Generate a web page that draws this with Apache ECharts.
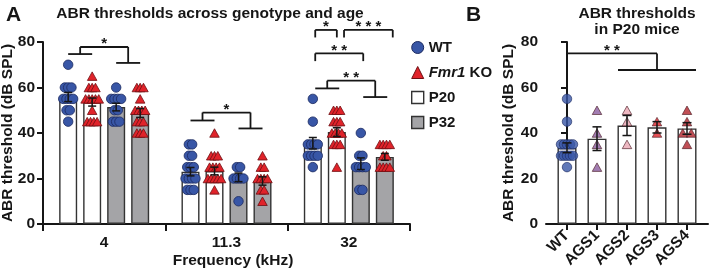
<!DOCTYPE html>
<html><head><meta charset="utf-8">
<script src="https://cdn.jsdelivr.net/npm/echarts@6/dist/echarts.min.js"></script>
<style>html,body{margin:0;padding:0;background:#fff;}#c{width:709px;height:269px;}</style>
</head><body><div id="c"></div>
<script>
const FONT = '"Liberation Sans", Arial, Helvetica, sans-serif';
const INK = '#161616';

// ---------- Panel A data ----------
const freqCategories = ['4', '11.3', '32'];
const wtP20 = [
  [70, 60, 60, 60, 55, 55, 55, 55, 50, 50, 45],
  [35, 35, 30, 30, 25, 25, 25, 20, 20, 20, 20, 15, 15, 15],
  [55, 45, 35, 35, 35, 35, 30, 30, 30, 30, 25]
];
const koP20 = [
  [65, 60, 60, 60, 55, 55, 55, 55, 55, 50, 45, 45, 45, 45],
  [40, 30, 30, 30, 25, 25, 25, 25, 20, 20, 20, 20, 20, 15],
  [50, 50, 50, 45, 45, 45, 40, 40, 40, 40, 35, 35, 35, 25]
];
const wtP32 = [
  [60, 55, 55, 55, 55, 50, 50, 45, 45, 45],
  [25, 25, 20, 20, 20, 20, 10],
  [40, 30, 30, 25, 25, 25, 25, 15, 15]
];
const koP32 = [
  [60, 60, 60, 55, 50, 50, 50, 50, 45, 45, 45, 40, 40, 40],
  [30, 25, 25, 20, 20, 20, 20, 15, 15, 10],
  [35, 35, 35, 35, 30, 30, 25, 25, 25, 25]
];
const meanWtP20 = [55.8, 23.0, 35.5];
const meanKoP20 = [53.6, 23.3, 40.4];
const meanWtP32 = [51.4, 20.5, 26.5];
const meanKoP32 = [48.8, 18.9, 29.5];

// significance brackets, panel A (x positions in bar slots, -1.5..1.5 within a frequency group)
// [group, leftFrom, leftTo, leftLevel, rightFrom, rightTo, rightLevel, topLevel]
const treeBracketsA = [
  [0, -1.5, -0.5, 74.7, 0.5, 1.5, 70.8, 77.8],
  [1, -1.5, -0.5, 45.5, 0.5, 1.5, 42.0, 49.0],
  [2, -1.4, -0.4, 59.6, 0.6, 1.6, 55.8, 63.0]
];
const treeLabelsA = ['*', '*', '* *'];
// [group, from, to, legLevel, topLevel]
const simpleBracketsA = [
  [2, -1.4, -0.5, 82.0, 85.3],
  [2, -0.2, 1.83, 82.0, 85.3],
  [2, -1.4, 0.6, 71.6, 75.0]
];
const simpleLabelsA = ['*', '* * *', '* *'];

// ---------- Panel B data ----------
const mouseCategories = ['WT', 'AGS1', 'AGS2', 'AGS3', 'AGS4'];
const pointsB = [
  [55, 45, 35, 35, 35, 35, 35, 30, 30, 30, 30, 30, 25],
  [50, 40, 35, 25],
  [50, 45, 35],
  [45, 40],
  [50, 45, 40, 40, 35]
];
const meansB = [33.5, 37.5, 43.3, 42.5, 42.0];
// [leftFrom, leftTo, leftLevel, rightFrom, rightTo, rightLevel, topLevel]
const treeBracketB = [0, 0, 67.7, 1.7, 4.3, 67.7, 75.0];
const treeLabelB = '* *';

// ---------- style ----------
const BLUE = '#3856a6', BLUE_EDGE = '#1c2a60';
const RED = '#e0232a', RED_EDGE = '#6e0f13';
const GREY = '#a4a4a7';
const colorsB = ['#3856a6', '#8b5c9f', '#eaa6b3', '#e0262c', '#b2232b'];
const BAR_W = 18, BAR_GAP = 6, SLOT = BAR_W + BAR_GAP;
const JIT = 3.3;
const jitterB = [3, 3, 3, 3, 8.5];

function sem(a) {
  const n = a.length, m = a.reduce((s, v) => s + v, 0) / n;
  const v = a.reduce((s, x) => s + (x - m) * (x - m), 0) / (n - 1);
  return Math.sqrt(v / n);
}
function rowOffsets(values, step) {
  const counts = {}, seen = {};
  values.forEach(v => { counts[v] = (counts[v] || 0) + 1; });
  return values.map(v => {
    seen[v] = seen[v] === undefined ? 0 : seen[v] + 1;
    return (seen[v] - (counts[v] - 1) / 2) * step;
  });
}
const slotPx = b => (b - 1.5) * SLOT;

function scatterData(sets, slots) {
  const out = [];
  sets.forEach((set, k) => {
    set.forEach((vals, g) => {
      const offs = rowOffsets(vals, JIT);
      vals.forEach((v, i) => out.push({ value: [g, v], symbolOffset: [slotPx(slots[k]) + offs[i], 0] }));
    });
  });
  return out;
}
const allSets = [wtP20, koP20, wtP32, koP32];
const allMeans = [meanWtP20, meanKoP20, meanWtP32, meanKoP32];
const errDataA = [];
allSets.forEach((set, b) => set.forEach((vals, g) => errDataA.push([g, allMeans[b][g], sem(vals), b])));

const lineStyle = { stroke: INK, lineWidth: 1.8 };
const errStyle = { stroke: INK, lineWidth: 1.5 };
function ln(x1, y1, x2, y2, st) { return { type: 'line', shape: { x1, y1, x2, y2 }, style: st }; }
function star(x, y, t) {
  return { type: 'text', style: { text: t, x, y, align: 'center', verticalAlign: 'middle', font: 'bold 15px ' + FONT, fill: INK } };
}
function treeShape(xAt, yAt, b, label) {
  const lx0 = xAt(b[0]), lx1 = xAt(b[1]), ly = yAt(b[2]);
  const rx0 = xAt(b[3]), rx1 = xAt(b[4]), ry = yAt(b[5]), ty = yAt(b[6]);
  const lm = (lx0 + lx1) / 2, rm = (rx0 + rx1) / 2;
  return [
    ln(lx0, ly, lx1, ly, lineStyle), ln(lm, ly, lm, ty, lineStyle), ln(lm, ty, rm, ty, lineStyle),
    ln(rm, ty, rm, ry, lineStyle), ln(rx0, ry, rx1, ry, lineStyle), star((lm + rm) / 2, ty - 3, label)
  ];
}

const barSeries = (name, means, fill) => ({
  type: 'bar', name, xAxisIndex: 0, yAxisIndex: 0, data: means, barWidth: BAR_W, barGap: (BAR_GAP / BAR_W * 100) + '%',
  itemStyle: { color: fill, borderColor: '#333', borderWidth: 1.4 }, z: 2, silent: true
});

const axisText = { fontFamily: FONT, fontWeight: 'bold', fontSize: 15.5, color: INK };
const axisLine = { show: true, lineStyle: { color: INK, width: 2 } };
const axisTick = { show: true, length: 6, lineStyle: { color: INK, width: 2 } };

const option = {
  animation: false,
  backgroundColor: '#fff',
  title: [
    { text: 'A', left: 1, top: 0, textStyle: { fontFamily: FONT, fontWeight: 'bold', fontSize: 21, color: INK } },
    { text: 'ABR thresholds across genotype and age', left: 205, textAlign: 'center', top: 1, textStyle: { fontFamily: FONT, fontWeight: 'bold', fontSize: 15.5, color: INK } },
    { text: 'B', left: 461, top: 0, textStyle: { fontFamily: FONT, fontWeight: 'bold', fontSize: 21, color: INK } },
    { text: 'ABR thresholds\nin P20 mice', left: 632, textAlign: 'center', top: 1, textStyle: { fontFamily: FONT, fontWeight: 'bold', fontSize: 15.5, lineHeight: 16, color: INK } }
  ],
  legend: {
    orient: 'vertical', left: 406, top: 34, itemWidth: 12, itemHeight: 12, itemGap: 8, itemTextGap: 3,
    selectedMode: false,
    textStyle: { fontFamily: FONT, fontWeight: 'bold', fontSize: 15, color: INK, lineHeight: 17,
      rich: { i: { fontFamily: FONT, fontWeight: 'bold', fontStyle: 'italic', fontSize: 15, color: INK }, b: { fontFamily: FONT, fontWeight: 'bold', fontSize: 15, color: INK } } },
    formatter: n => n === 'Fmr1 KO' ? '{i|Fmr1}{b| KO}' : n,
    data: [
      { name: 'WT', icon: 'circle', itemStyle: { color: BLUE, borderColor: BLUE_EDGE, borderWidth: 1 } },
      { name: 'Fmr1 KO', icon: 'triangle', itemStyle: { color: RED, borderColor: RED_EDGE, borderWidth: 1 } },
      { name: 'P20', icon: 'rect', itemStyle: { color: '#fff', borderColor: '#333', borderWidth: 1.4 } },
      { name: 'P32', icon: 'rect', itemStyle: { color: GREY, borderColor: '#333', borderWidth: 1.4 } }
    ]
  },
  grid: [
    { left: 43, top: 42, width: 367, height: 182, outerBoundsMode: 'none', containLabel: false },
    { left: 546, top: 42, width: 162, height: 182, outerBoundsMode: 'none', containLabel: false }
  ],
  xAxis: [
    { type: 'category', gridIndex: 0, data: freqCategories, axisLine, axisTick: { ...axisTick, length: 7 },
      axisLabel: { ...axisText, margin: 11 }, name: 'Frequency (kHz)', nameLocation: 'middle', nameGap: 29, nameMoveOverlap: false,
      nameTextStyle: { ...axisText, padding: [0, 0, 0, 13] } },
    { type: 'value', gridIndex: 1, min: -0.7, max: 4.7, axisLine, splitLine: { show: false },
      axisTick: { ...axisTick, customValues: [0, 1, 2, 3, 4] },
      axisLabel: { ...axisText, customValues: [0, 1, 2, 3, 4], formatter: v => mouseCategories[Math.round(v)], rotate: 45, margin: 9 } }
  ],
  yAxis: [
    { type: 'value', gridIndex: 0, min: 0, max: 80, interval: 20, axisLine, axisTick, splitLine: { show: false },
      axisLabel: { ...axisText, margin: 8 }, name: 'ABR threshold (dB SPL)', nameLocation: 'middle', nameGap: 27, nameMoveOverlap: false, nameTextStyle: axisText },
    { type: 'value', gridIndex: 1, min: 0, max: 80, interval: 20, axisLine, axisTick, splitLine: { show: false },
      axisLabel: { ...axisText, margin: 8 }, name: 'ABR threshold (dB SPL)', nameLocation: 'middle', nameGap: 29.5, nameMoveOverlap: false, nameTextStyle: axisText }
  ],
  series: [
    barSeries('P20', meanWtP20, '#fff'),
    barSeries('P20', meanKoP20, '#fff'),
    barSeries('P32', meanWtP32, GREY),
    barSeries('P32', meanKoP32, GREY),
    { type: 'scatter', name: 'WT', xAxisIndex: 0, yAxisIndex: 0, symbol: 'circle', symbolSize: 9.5, z: 3, silent: true,
      itemStyle: { color: BLUE, borderColor: BLUE_EDGE, borderWidth: 0.8, opacity: 1 }, data: scatterData([wtP20, wtP32], [0, 2]) },
    { type: 'scatter', name: 'Fmr1 KO', xAxisIndex: 0, yAxisIndex: 0, symbol: 'triangle', symbolSize: [9.5, 8.5], z: 3, silent: true,
      itemStyle: { color: RED, borderColor: RED_EDGE, borderWidth: 0.8, opacity: 1 }, data: scatterData([koP20, koP32], [1, 3]) },
    { type: 'custom', name: 'errA', xAxisIndex: 0, yAxisIndex: 0, z: 4, silent: true, clip: false,
      data: errDataA, encode: { x: 0, y: 1 },
      renderItem: (p, api) => {
        const g = api.value(0), m = api.value(1), s = api.value(2), b = api.value(3);
        const x = api.coord([g, m])[0] + slotPx(b);
        const yt = api.coord([g, m + s])[1], yb = api.coord([g, m - s])[1];
        return { type: 'group', children: [ln(x, yt, x, yb, errStyle), ln(x - 4, yt, x + 4, yt, errStyle), ln(x - 4, yb, x + 4, yb, errStyle)] };
      } },
    { type: 'custom', name: 'treeA', xAxisIndex: 0, yAxisIndex: 0, z: 5, silent: true, clip: false,
      data: treeBracketsA.map(b => [b[0], b[7]]), encode: { x: 0, y: 1 },
      renderItem: (p, api) => {
        const b = treeBracketsA[p.dataIndex], g = b[0];
        const xAt = pos => api.coord([g, 0])[0] + pos * SLOT;
        const yAt = v => api.coord([g, v])[1];
        return { type: 'group', children: treeShape(xAt, yAt, b.slice(1), treeLabelsA[p.dataIndex]) };
      } },
    { type: 'custom', name: 'simpleA', xAxisIndex: 0, yAxisIndex: 0, z: 5, silent: true, clip: false,
      data: simpleBracketsA.map(b => [b[0], b[4]]), encode: { x: 0, y: 1 },
      renderItem: (p, api) => {
        const b = simpleBracketsA[p.dataIndex], g = b[0];
        const x0 = api.coord([g, 0])[0] + b[1] * SLOT, x1 = api.coord([g, 0])[0] + b[2] * SLOT;
        const yl = api.coord([g, b[3]])[1], yt = api.coord([g, b[4]])[1];
        return { type: 'group', children: [ln(x0, yl, x0, yt, lineStyle), ln(x0, yt, x1, yt, lineStyle), ln(x1, yt, x1, yl, lineStyle),
          star((x0 + x1) / 2, yt - 3, simpleLabelsA[p.dataIndex])] };
      } },
    // Panel B
    { type: 'bar', name: 'barsB', xAxisIndex: 1, yAxisIndex: 1, barWidth: 19, z: 2, silent: true,
      itemStyle: { color: '#fff', borderColor: '#333', borderWidth: 1.4 }, data: meansB.map((m, i) => [i, m]) },
    { type: 'scatter', name: 'pointsB', xAxisIndex: 1, yAxisIndex: 1, z: 3, silent: true,
      data: pointsB.flatMap((vals, i) => {
        const offs = rowOffsets(vals, jitterB[i]);
        return vals.map((v, k) => ({ value: [i, v], symbolOffset: [offs[k], 0],
          symbol: i === 0 ? 'circle' : 'triangle', symbolSize: i === 0 ? 9.5 : [9.5, 8.5],
          itemStyle: { color: colorsB[i], borderColor: i === 0 ? BLUE_EDGE : '#4a1a22', borderWidth: 0.8 } }));
      }) },
    { type: 'custom', name: 'errB', xAxisIndex: 1, yAxisIndex: 1, z: 4, silent: true, clip: false,
      data: pointsB.map((vals, i) => [i, meansB[i], sem(vals)]), encode: { x: 0, y: 1 },
      renderItem: (p, api) => {
        const i = api.value(0), m = api.value(1), s = api.value(2);
        const x = api.coord([i, m])[0];
        const yt = api.coord([i, m + s])[1], yb = api.coord([i, m - s])[1];
        return { type: 'group', children: [ln(x, yt, x, yb, errStyle), ln(x - 4.5, yt, x + 4.5, yt, errStyle), ln(x - 4.5, yb, x + 4.5, yb, errStyle)] };
      } },
    { type: 'custom', name: 'treeB', xAxisIndex: 1, yAxisIndex: 1, z: 5, silent: true, clip: false,
      data: [[0, treeBracketB[6]]], encode: { x: 0, y: 1 },
      renderItem: (p, api) => {
        const xAt = v => api.coord([v, 0])[0];
        const yAt = v => api.coord([0, v])[1];
        return { type: 'group', children: treeShape(xAt, yAt, treeBracketB, treeLabelB) };
      } }
  ]
};
const chart = echarts.init(document.getElementById('c'));
chart.setOption(option);
</script></body></html>
